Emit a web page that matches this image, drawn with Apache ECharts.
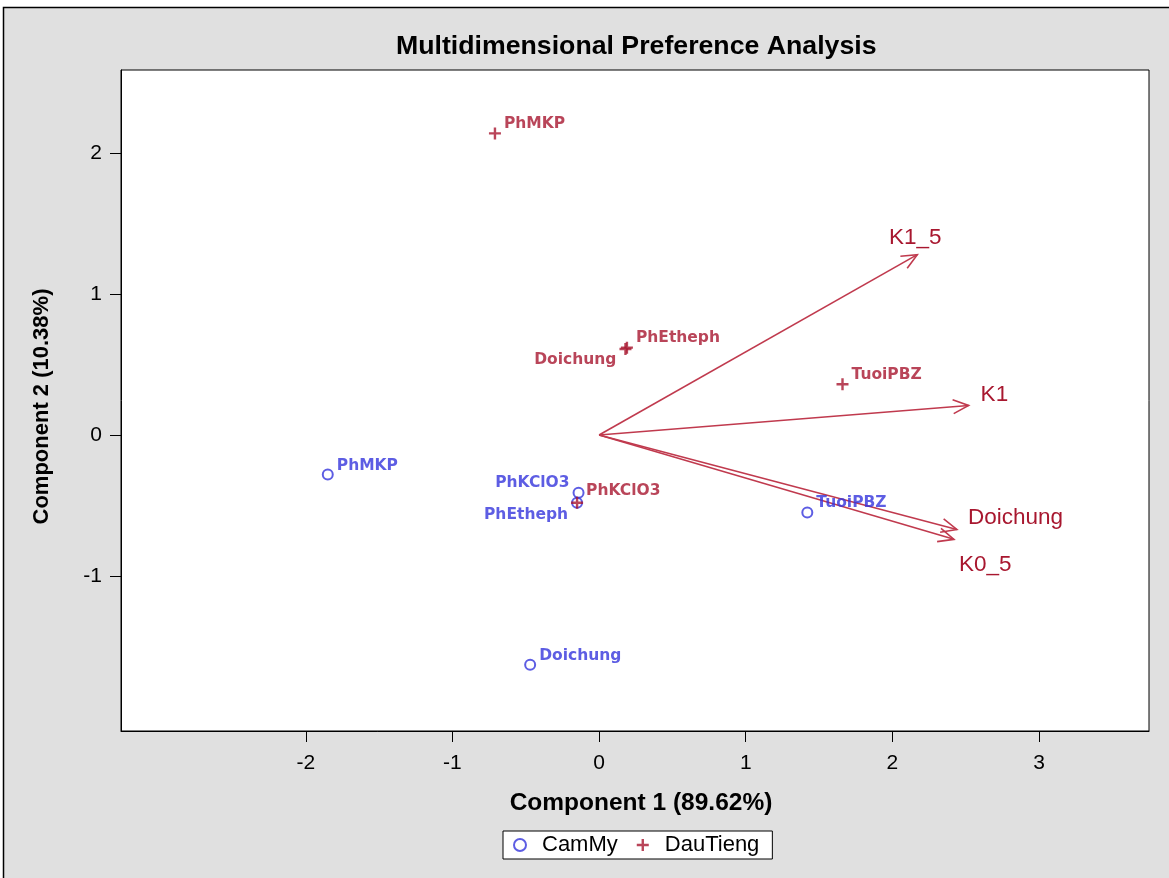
<!DOCTYPE html>
<html>
<head>
<meta charset="utf-8">
<script src="https://cdn.jsdelivr.net/npm/echarts@6/dist/echarts.min.js"></script>
<style>
html,body{margin:0;padding:0;background:#fff;}
#c{width:1169px;height:878px;}
</style>
</head>
<body>
<div id="c"></div>
<script>
// ---- data ----
var camMyNames = ['PhMKP', 'PhKClO3', 'PhEtheph', 'TuoiPBZ', 'Doichung'];
var camMyX = [-1.85, -0.14, -0.15, 1.42, -0.47];
var camMyY = [-0.28, -0.41, -0.48, -0.55, -1.63];

var dauTiengNames = ['PhMKP', 'PhEtheph', 'Doichung', 'PhKClO3', 'TuoiPBZ'];
var dauTiengX = [-0.71, 0.19, 0.18, -0.15, 1.66];
var dauTiengY = [2.14, 0.62, 0.61, -0.48, 0.36];

var vecNames = ['K1_5', 'K1', 'Doichung', 'K0_5'];
var vecX = [2.17, 2.52, 2.44, 2.42];
var vecY = [1.28, 0.21, -0.67, -0.74];

var xTicks = [-2, -1, 0, 1, 2, 3];
var yTicks = [-1, 0, 1, 2];

// ---- label placement (style only) ----
var camMyLabelPos = [['right',[0,-9]], ['left',[0,-10]], ['left',[0,12]], ['right',[0,-10]], ['right',[0,-9]]];
var dauLabelPos = [['right',[0,-9]], ['right',[0,-10]], ['left',[0,11]], ['right',[0,-12]], ['right',[0,-9]]];
var vecLabelOff = [[-2,-17,'center'], [12,-11,'left'], [11,-12,'left'], [5,25,'left']];

var BLUE = '#3535dc', RED = '#a8172f', ARROW = '#c03a4e';
var plusPath = 'path://M4,0h2v4h4v2h-4v4h-2v-4h-4v-2h4z';

function pts(xs, ys, names, pos) {
  return xs.map(function (x, i) {
    return {
      value: [x, ys[i]], name: names[i],
      label: { position: pos[i][0], offset: pos[i][1] }
    };
  });
}

var chart = echarts.init(document.getElementById('c'), null, { renderer: 'canvas' });
var ptLabel = {
  show: true, formatter: '{b}', distance: 3,
  fontFamily: 'DejaVu Sans', fontSize: 15.5, fontWeight: 'bold'
};

chart.setOption({
  backgroundColor: '#fff',
  animation: false,
  graphic: [{
    type: 'rect', silent: true, z: -10,
    shape: { x: 3.5, y: 7.5, width: 1200, height: 900 },
    style: { fill: '#e0e0e0', stroke: '#000', lineWidth: 1.5 }
  }],
  title: {
    text: 'Multidimensional Preference Analysis',
    left: 391, top: 28,
    textStyle: { fontFamily: 'Liberation Sans', fontWeight: 'bold', fontSize: 26.7, color: '#000' }
  },
  grid: {
    left: 121, right: 20, top: 70, bottom: 147,
    show: true, backgroundColor: '#fff', borderColor: '#000', borderWidth: 1
  },
  legend: {
    top: 831, left: 503,
    itemWidth: 12, itemHeight: 12, itemGap: 19,
    borderColor: '#000', borderWidth: 1, backgroundColor: '#fff',
    padding: [3, 13, 3, 10],
    textStyle: { fontFamily: 'Liberation Sans', fontSize: 22, color: '#000', padding: [0, 0, 0, 11] },
    data: [
      { name: 'CamMy', icon: 'circle', itemStyle: { color: '#fff', borderColor: BLUE, borderWidth: 2 } },
      { name: 'DauTieng', icon: plusPath, itemStyle: { color: RED } }
    ]
  },
  xAxis: {
    type: 'value', min: -3.26, max: 3.75,
    name: 'Component 1 (89.62%)', nameLocation: 'middle', nameGap: 60,
    nameTextStyle: { fontFamily: 'Liberation Sans', fontWeight: 'bold', fontSize: 24.5, color: '#000', padding: [0, 0, 0, 12] },
    axisLine: { show: true, onZero: false, lineStyle: { color: '#000' } },
    axisTick: { show: true, customValues: xTicks, length: 11, lineStyle: { color: '#000' } },
    axisLabel: { customValues: xTicks, fontFamily: 'Liberation Sans', fontSize: 21, color: '#000', margin: 22 },
    splitLine: { show: false }
  },
  yAxis: {
    type: 'value', min: -2.10, max: 2.59,
    name: 'Component 2 (10.38%)', nameLocation: 'middle', nameGap: 68,
    nameTextStyle: { fontFamily: 'Liberation Sans', fontWeight: 'bold', fontSize: 22, color: '#000', padding: [0, 12, 0, 0] },
    axisLine: { show: true, onZero: false, lineStyle: { color: '#000' } },
    axisTick: { show: true, customValues: yTicks, length: 11, lineStyle: { color: '#000' } },
    axisLabel: { customValues: yTicks, fontFamily: 'Liberation Sans', fontSize: 21, color: '#000', margin: 19 },
    splitLine: { show: false }
  },
  series: [
    {
      name: 'Vectors', type: 'custom', z: 2, silent: true,
      data: vecX.map(function (x, i) { return [x, vecY[i], i]; }),
      renderItem: function (params, api) {
        var i = api.value(2);
        var o = api.coord([0, 0]);
        var p = api.coord([api.value(0), api.value(1)]);
        var ang = Math.atan2(p[1] - o[1], p[0] - o[0]);
        var L = 17, a = 0.42;
        var h1 = [p[0] - L * Math.cos(ang - a), p[1] - L * Math.sin(ang - a)];
        var h2 = [p[0] - L * Math.cos(ang + a), p[1] - L * Math.sin(ang + a)];
        var st = { stroke: ARROW, lineWidth: 1.6, fill: null };
        var off = vecLabelOff[i];
        return {
          type: 'group',
          children: [
            { type: 'line', shape: { x1: o[0], y1: o[1], x2: p[0], y2: p[1] }, style: st },
            { type: 'polyline', shape: { points: [h1, p, h2] }, style: st },
            { type: 'text', x: p[0] + off[0], y: p[1] + off[1],
              style: { text: vecNames[i], fill: RED, font: '22.5px "Liberation Sans"',
                       align: off[2], verticalAlign: 'middle' } }
          ]
        };
      }
    },
    {
      name: 'CamMy', type: 'scatter', z: 3,
      symbol: 'circle', symbolSize: 10,
      itemStyle: { color: 'rgba(255,255,255,0)', borderColor: BLUE, borderWidth: 2 },
      label: Object.assign({}, ptLabel, { color: BLUE }),
      data: pts(camMyX, camMyY, camMyNames, camMyLabelPos)
    },
    {
      name: 'DauTieng', type: 'scatter', z: 4,
      symbol: plusPath, symbolSize: 12,
      itemStyle: { color: RED },
      label: Object.assign({}, ptLabel, { color: RED }),
      data: pts(dauTiengX, dauTiengY, dauTiengNames, dauLabelPos)
    }
  ]
});
</script>
</body>
</html>
